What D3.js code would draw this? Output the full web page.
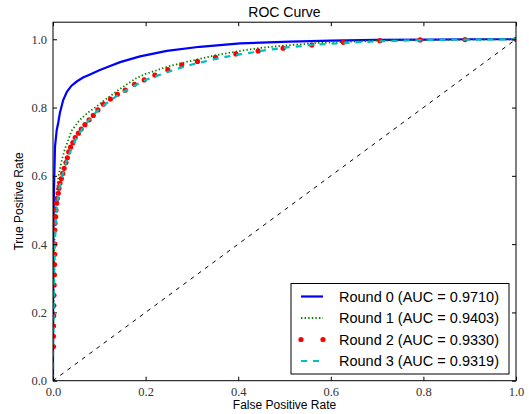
<!DOCTYPE html>
<html>
<head>
<meta charset="utf-8">
<script src="https://cdn.jsdelivr.net/npm/d3@7"></script>
<style>
  html, body { margin: 0; padding: 0; background: #fff; }
  svg { display: block; }
</style>
</head>
<body>
<div id="chart"></div>
<script>
// ROC points: [false positive rate, true positive rate]
var round0 = [[0,0],[0,0.1],[0.0005,0.3],[0.001,0.45],[0.002,0.55],[0.003,0.61],[0.0043,0.685],
  [0.008,0.734],[0.0115,0.757],[0.015,0.785],[0.022,0.822],[0.03,0.846],[0.04,0.864],[0.052,0.877],
  [0.065,0.888],[0.08,0.897],[0.1,0.909],[0.122,0.921],[0.145,0.933],[0.188,0.95],[0.246,0.966],
  [0.317,0.978],[0.404,0.988],[0.512,0.993],[0.6,0.996],[0.7,0.998],[0.816,0.999],[0.9,1],[1,1]];
var round1 = [[0,0],[0,0.1],[0.001,0.2],[0.002,0.3],[0.003,0.4],[0.005,0.48],[0.008,0.55],
  [0.012,0.6],[0.019,0.646],[0.026,0.68],[0.033,0.705],[0.04,0.732],[0.058,0.764],[0.075,0.785],
  [0.091,0.8],[0.11,0.82],[0.127,0.837],[0.145,0.855],[0.163,0.871],[0.18,0.886],[0.199,0.898],
  [0.25,0.921],[0.296,0.936],[0.35,0.953],[0.404,0.966],[0.45,0.975],[0.512,0.983],[0.57,0.989],
  [0.634,0.993],[0.7,0.996],[0.8,0.998],[0.9,0.999],[1,1]];
var round2 = [[0.001,0.1],[0.001,0.13],[0.0012,0.16],[0.0015,0.19],[0.0018,0.22],[0.002,0.25],
  [0.0025,0.28],[0.003,0.31],[0.0033,0.34],[0.0036,0.37],[0.004,0.4],[0.0037,0.441],[0.0043,0.461],
  [0.0058,0.48],[0.0065,0.5],[0.008,0.52],[0.0093,0.534],[0.0114,0.549],[0.013,0.564],[0.015,0.578],
  [0.018,0.592],[0.021,0.607],[0.024,0.622],[0.028,0.639],[0.031,0.653],[0.034,0.67],[0.038,0.684],
  [0.043,0.697],[0.048,0.712],[0.055,0.725],[0.061,0.737],[0.069,0.75],[0.078,0.764],[0.087,0.777],
  [0.097,0.793],[0.109,0.81],[0.124,0.825],[0.139,0.839],[0.156,0.851],[0.176,0.868],[0.197,0.881],
  [0.22,0.895],[0.248,0.911],[0.278,0.925],[0.312,0.935],[0.351,0.947],[0.395,0.957],[0.443,0.966],
  [0.497,0.974],[0.559,0.983],[0.627,0.991],[0.706,0.996],[0.793,0.998],[0.89,0.999],[1,1]];
var round3 = [[0,0],[0,0.08],[0.001,0.15],[0.002,0.25],[0.003,0.33],[0.004,0.4],[0.006,0.46],
  [0.009,0.52],[0.013,0.56],[0.018,0.59],[0.024,0.62],[0.031,0.65],[0.04,0.68],[0.05,0.71],
  [0.062,0.735],[0.077,0.762],[0.095,0.789],[0.115,0.812],[0.138,0.834],[0.165,0.856],[0.195,0.878],
  [0.22,0.891],[0.248,0.904],[0.274,0.916],[0.3,0.926],[0.325,0.934],[0.354,0.943],[0.379,0.95],
  [0.404,0.956],[0.433,0.962],[0.454,0.967],[0.483,0.972],[0.505,0.976],[0.537,0.98],[0.562,0.984],
  [0.591,0.986],[0.616,0.988],[0.645,0.99],[0.67,0.992],[0.699,0.994],[0.728,0.995],[0.757,0.996],
  [0.807,0.998],[0.9,0.999],[1,1]];
var chance = [[0,0],[1,1]];

var seriesNames = ["Round 0 (AUC = 0.9710)", "Round 1 (AUC = 0.9403)",
                   "Round 2 (AUC = 0.9330)", "Round 3 (AUC = 0.9319)"];
var ticks = [0, 0.2, 0.4, 0.6, 0.8, 1.0];

(function(){
var W = 529, H = 414;
var pl = 53, pr = 516, pt = 22.2, pb = 380.7;

var svg = d3.select("#chart").append("svg").attr("width", W).attr("height", H);

var x = d3.scaleLinear().domain([0, 1]).range([pl, pr]);
var y = d3.scaleLinear().domain([0, 1.05]).range([pb, pt]);

svg.append("defs").append("clipPath").attr("id", "clip")
  .append("rect").attr("x", pl).attr("y", pt)
  .attr("width", pr - pl).attr("height", pb - pt);

var plot = svg.append("g").attr("clip-path", "url(#clip)");
var line = d3.line().x(function(d){ return x(d[0]); }).y(function(d){ return y(d[1]); });

var styles = [
  {data: round0, color: "#0000ff", width: 2.2, dash: null},
  {data: round1, color: "#008000", width: 1.8, dash: "1.4,2.2"},
  {data: round2, color: "#ff0000", dots: true},
  {data: round3, color: "#00bfbf", width: 2.2, dash: "6,6"}
];

styles.forEach(function(s){
  if(s.dots){
    plot.append("g").selectAll("circle").data(s.data).enter().append("circle")
      .attr("cx", function(d){ return x(d[0]); })
      .attr("cy", function(d){ return y(d[1]); })
      .attr("r", 2.6).attr("fill", s.color);
  }else{
    plot.append("path").datum(s.data).attr("d", line)
      .attr("fill", "none").attr("stroke", s.color)
      .attr("stroke-width", s.width)
      .attr("stroke-dasharray", s.dash);
  }
});

plot.append("path").datum(chance).attr("d", line)
  .attr("fill", "none").attr("stroke", "#000").attr("stroke-width", 1)
  .attr("stroke-dasharray", "4,5");

// frame and inward ticks on all four sides
var fmt = d3.format(".1f");
function styleAxis(g){
  g.select(".domain").remove();
  g.selectAll(".tick line").attr("stroke", "#000");
  g.selectAll("text").attr("font-family", "'Liberation Serif', 'DejaVu Serif', serif")
    .attr("font-size", 12.5).attr("fill", "#333");
}
svg.append("g").attr("transform", "translate(0," + pb + ")")
  .call(d3.axisBottom(x).tickValues(ticks).tickFormat(fmt).tickSize(-4).tickPadding(6)).call(styleAxis);
svg.append("g").attr("transform", "translate(0," + pt + ")")
  .call(d3.axisTop(x).tickValues(ticks).tickFormat("").tickSize(-4)).call(styleAxis);
svg.append("g").attr("transform", "translate(" + pl + ",0)")
  .call(d3.axisLeft(y).tickValues(ticks).tickFormat(fmt).tickSize(-4).tickPadding(6)).call(styleAxis);
svg.append("g").attr("transform", "translate(" + pr + ",0)")
  .call(d3.axisRight(y).tickValues(ticks).tickFormat("").tickSize(-4)).call(styleAxis);

svg.append("rect").attr("x", pl).attr("y", pt)
  .attr("width", pr - pl).attr("height", pb - pt)
  .attr("fill", "none").attr("stroke", "#000").attr("stroke-width", 1);

var sans = "'Liberation Sans', Arial, Helvetica, sans-serif";
svg.append("text").attr("x", (pl + pr) / 2).attr("y", 17)
  .attr("text-anchor", "middle").attr("font-family", sans).attr("font-size", 14)
  .text("ROC Curve");
svg.append("text").attr("x", (pl + pr) / 2).attr("y", 409)
  .attr("text-anchor", "middle").attr("font-family", sans).attr("font-size", 12)
  .text("False Positive Rate");
svg.append("text").attr("transform", "translate(23," + ((pt + pb) / 2) + ") rotate(-90)")
  .attr("text-anchor", "middle").attr("font-family", sans).attr("font-size", 12)
  .text("True Positive Rate");

// legend
var lg = svg.append("g").attr("transform", "translate(291,283.5)");
lg.append("rect").attr("width", 218).attr("height", 90.5)
  .attr("fill", "#fff").attr("stroke", "#000").attr("stroke-width", 1);
styles.forEach(function(s, i){
  var ly = 13 + i * 21.5;
  if(s.dots){
    lg.selectAll(null).data([10, 32]).enter().append("circle")
      .attr("cx", function(d){ return d; }).attr("cy", ly).attr("r", 2.6).attr("fill", s.color);
  }else{
    lg.append("line").attr("x1", 10).attr("x2", 32).attr("y1", ly).attr("y2", ly)
      .attr("stroke", s.color).attr("stroke-width", s.width).attr("stroke-dasharray", s.dash);
  }
  lg.append("text").attr("x", 48).attr("y", ly).attr("dy", "0.36em")
    .attr("font-family", sans).attr("font-size", 14.5).text(seriesNames[i]);
});
})();
</script>
</body>
</html>
